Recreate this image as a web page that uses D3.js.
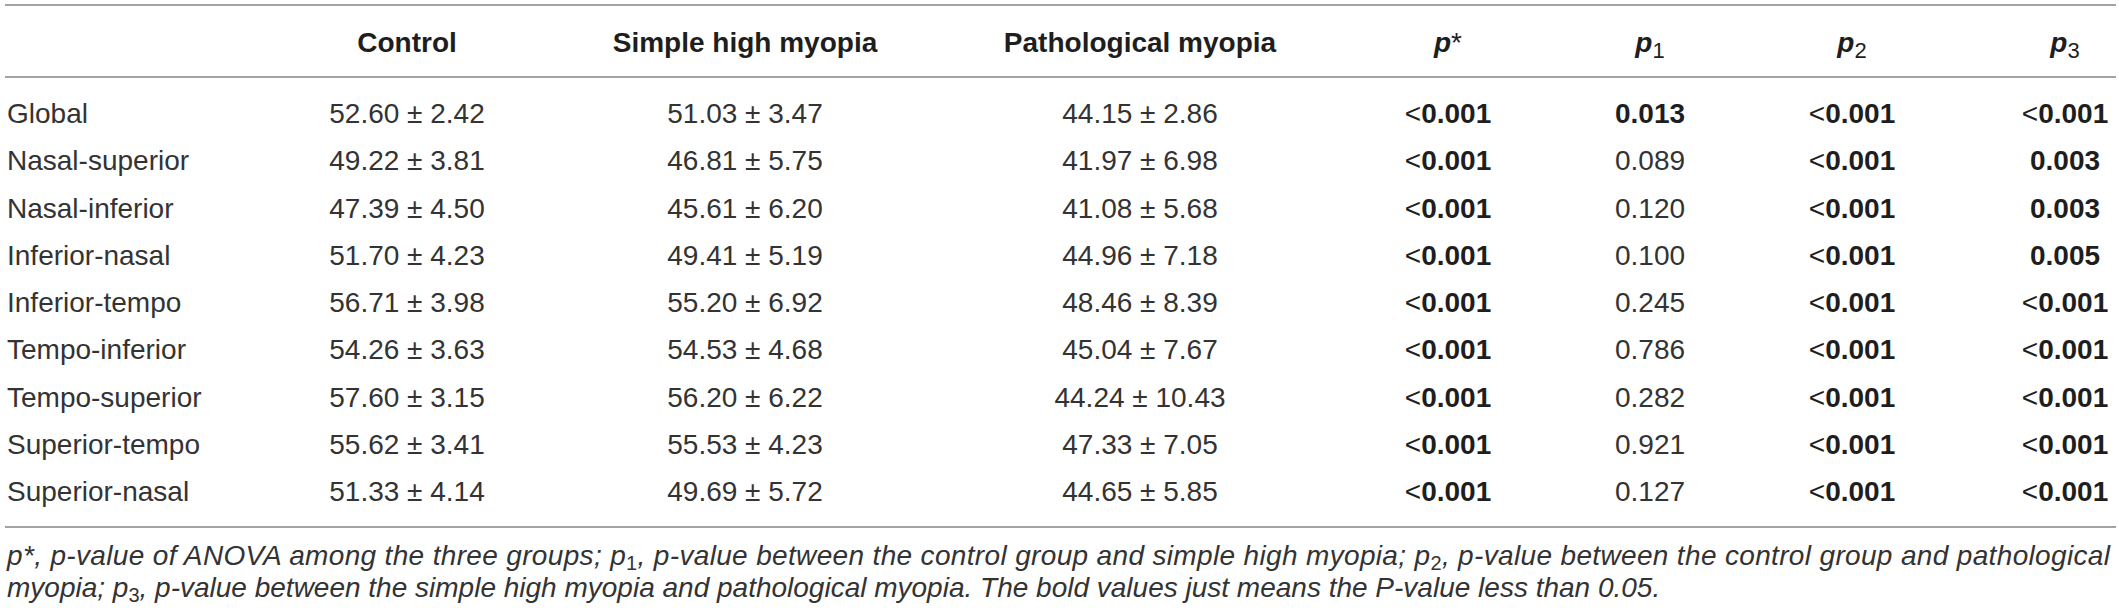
<!DOCTYPE html>
<html>
<head>
<meta charset="utf-8">
<script src="https://cdn.jsdelivr.net/npm/d3@7"></script>
<style>
  body { margin: 0; background: #fff; }
  svg { display: block; font-family: "Liberation Sans", Arial, Helvetica, sans-serif; }
  .light { fill: #333; font-size: 28px; }
  .bold { fill: #1e1e1e; font-size: 28px; font-weight: bold; }
  .note { fill: #333; font-size: 28px; font-style: italic; }
</style>
</head>
<body>
<div id="table"></div>
<script>
// table data
var regions = ['Global', 'Nasal-superior', 'Nasal-inferior', 'Inferior-nasal', 'Inferior-tempo',
               'Tempo-inferior', 'Tempo-superior', 'Superior-tempo', 'Superior-nasal']
var control = ['52.60 ± 2.42', '49.22 ± 3.81', '47.39 ± 4.50', '51.70 ± 4.23', '56.71 ± 3.98',
               '54.26 ± 3.63', '57.60 ± 3.15', '55.62 ± 3.41', '51.33 ± 4.14']
var simpleHigh = ['51.03 ± 3.47', '46.81 ± 5.75', '45.61 ± 6.20', '49.41 ± 5.19', '55.20 ± 6.92',
                  '54.53 ± 4.68', '56.20 ± 6.22', '55.53 ± 4.23', '49.69 ± 5.72']
var pathological = ['44.15 ± 2.86', '41.97 ± 6.98', '41.08 ± 5.68', '44.96 ± 7.18', '48.46 ± 8.39',
                    '45.04 ± 7.67', '44.24 ± 10.43', '47.33 ± 7.05', '44.65 ± 5.85']
var pStar = ['<0.001', '<0.001', '<0.001', '<0.001', '<0.001', '<0.001', '<0.001', '<0.001', '<0.001']
var p1 = ['0.013', '0.089', '0.120', '0.100', '0.245', '0.786', '0.282', '0.921', '0.127']
var p2 = ['<0.001', '<0.001', '<0.001', '<0.001', '<0.001', '<0.001', '<0.001', '<0.001', '<0.001']
var p3 = ['<0.001', '0.003', '0.003', '0.005', '<0.001', '<0.001', '<0.001', '<0.001', '<0.001']
var groupHeaders = ['Control', 'Simple high myopia', 'Pathological myopia']
var pHeaders = [['p', '*'], ['p', '1'], ['p', '2'], ['p', '3']]

var W = 2119, H = 613

var svg = d3.select('div#table')
            .append('svg')
            .attr('width', W)
            .attr('height', H)

// column centres and row baselines
var colKeys = ['control', 'simple', 'patho', 'pstar', 'p1', 'p2', 'p3']
var x = d3.scaleOrdinal()
          .domain(colKeys)
          .range([407, 745, 1140, 1448, 1650, 1852, 2065])
var y = d3.scalePoint()
          .domain(regions)
          .range([123, 501])

// rules
var rules = [5, 77, 527]
svg.selectAll('line.rule')
    .data(rules)
    .enter()
    .append('line')
    .attr('class', 'rule')
    .attr('x1', 5)
    .attr('x2', 2116)
    .attr('y1', function(d){ return d })
    .attr('y2', function(d){ return d })
    .attr('stroke', '#a3a3a3')
    .attr('stroke-width', 2)

// header
svg.selectAll('text.ghead')
    .data(groupHeaders)
    .enter()
    .append('text')
    .attr('class', 'ghead bold')
    .attr('x', function(d, i){ return x(colKeys[i]) })
    .attr('y', 52)
    .style('text-anchor', 'middle')
    .text(function(d){ return d })

var ph = svg.selectAll('text.phead')
    .data(pHeaders)
    .enter()
    .append('text')
    .attr('class', 'phead bold')
    .attr('x', function(d, i){ return x(colKeys[i + 3]) })
    .attr('y', 52)
    .style('text-anchor', 'middle')
ph.append('tspan')
    .style('font-style', 'italic')
    .text(function(d){ return d[0] })
ph.append('tspan')
    .style('font-weight', 'normal')
    .style('font-size', function(d){ return d[1] == '*' ? '28px' : '22px' })
    .attr('dy', function(d){ return d[1] == '*' ? 0 : 6 })
    .text(function(d){ return d[1] })

// body
var rows = regions.map(function(r, i){
    return {region: r, control: control[i], simple: simpleHigh[i], patho: pathological[i],
            pstar: pStar[i], p1: p1[i], p2: p2[i], p3: p3[i]}
})

svg.selectAll('text.region')
    .data(rows)
    .enter()
    .append('text')
    .attr('class', 'region light')
    .attr('x', 7)
    .attr('y', function(d){ return y(d.region) })
    .text(function(d){ return d.region })

;['control', 'simple', 'patho'].forEach(function(k){
    svg.selectAll('text.v-' + k)
        .data(rows)
        .enter()
        .append('text')
        .attr('class', 'v-' + k + ' light')
        .attr('x', x(k))
        .attr('y', function(d){ return y(d.region) })
        .style('text-anchor', 'middle')
        .text(function(d){ return d[k] })
})

function isSig(s){
    if(s.charAt(0) == '<'){ return true }
    return +s < 0.05
}

;['pstar', 'p1', 'p2', 'p3'].forEach(function(k){
    var t = svg.selectAll('text.v-' + k)
        .data(rows)
        .enter()
        .append('text')
        .attr('class', function(d){ return 'v-' + k + (isSig(d[k]) ? ' bold' : ' light') })
        .attr('x', x(k))
        .attr('y', function(d){ return y(d.region) })
        .style('text-anchor', 'middle')
    t.filter(function(d){ return d[k].charAt(0) == '<' })
        .append('tspan')
        .style('font-weight', 'normal')
        .text('<')
    t.append('tspan')
        .text(function(d){ return d[k].replace('<', '') })
})

// footnote, 's' marks a subscript
var noteLines = [
    [['p', ''], ['*', ''], [', p-value of ANOVA among the three groups; ', ''], ['p', ''], ['1', 's'],
     [', p-value between the control group and simple high myopia; ', ''], ['p', ''], ['2', 's'],
     [', p-value between the control group and pathological', '']],
    [['myopia; ', ''], ['p', ''], ['3', 's'],
     [', p-value between the simple high myopia and pathological myopia. The bold values just means the P-value less than 0.05.', '']]
]
var noteY = [565, 597]

noteLines.forEach(function(parts, li){
    var t = svg.append('text')
        .attr('class', 'note')
        .attr('x', 7)
        .attr('y', noteY[li])
    if(li == 0){
        t.attr('textLength', 2103).attr('lengthAdjust', 'spacing')
    }
    var shifted = false
    parts.forEach(function(p){
        var sp = t.append('tspan').text(p[0])
        if(p[1] == 's'){
            sp.style('font-size', '20px').style('font-style', 'normal').attr('dy', 5)
            shifted = true
        }else if(shifted){
            sp.attr('dy', -5)
            shifted = false
        }
    })
})
</script>
</body>
</html>
